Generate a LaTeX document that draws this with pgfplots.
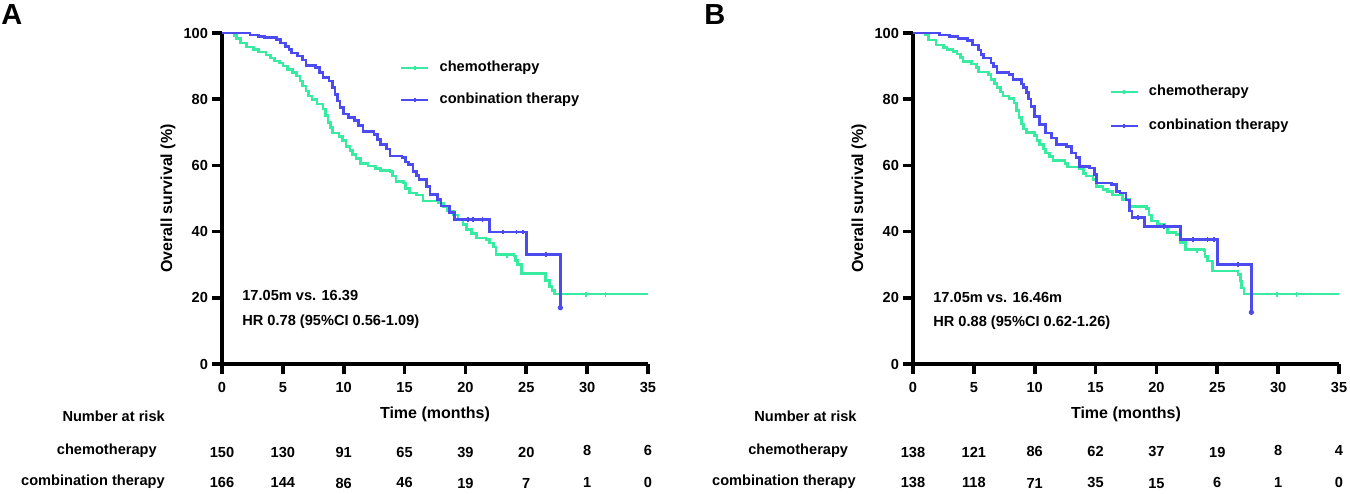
\documentclass[border=0pt]{standalone}
\usepackage{fontspec}
\setmainfont{Liberation Sans}
\usepackage{pgfplots}
\pgfplotsset{compat=1.18}
\definecolor{kmgreen}{RGB}{55,235,160}
\definecolor{kmblue}{RGB}{75,75,240}
\newcommand{\fnt}{\fontsize{7.3}{8.7}\selectfont\bfseries}
\newcommand{\lfnt}{\fontsize{8}{9.6}\selectfont\bfseries}
\pgfplotsset{
 kmaxis/.style={
  scale only axis, width=213pt, height=165.5pt,
  xmin=0,xmax=35,ymin=0,ymax=100,
  axis lines=left,
  axis line style={-, line width=1.8pt},
  every tick/.style={black, line width=1.8pt},
  tick align=outside, major tick length=5pt,
  xtick={0,5,...,35}, ytick={0,20,...,100},
  tick label style={font=\fnt},
  /pgf/number format/assume math mode=true,
  xticklabel style={yshift=-0.5pt},
  yticklabel style={xshift=1.5pt},
  xlabel={Time (months)}, ylabel={Overall survival (\%)},
  every axis x label/.style={at={(axis description cs:0.5,-0.152)}, anchor=center, font=\lfnt},
  every axis y label/.style={at={(axis description cs:-0.127,0.5)}, rotate=90, anchor=center, font=\lfnt},
  clip=false,
  legend cell align=left,
  legend style={draw=none, fill=none, font=\fnt, inner sep=0pt,
    nodes={inner sep=0pt, text height=5.4pt, text depth=1.6pt},
    column sep=5pt},
  legend image code/.code={\draw[#1] (0pt,0pt) -- (13.5pt,0pt);
     \draw[#1] (6.75pt,-1pt) -- (6.75pt,1pt);},
 },
 kmg/.style={kmgreen, line width=1.3pt, const plot, mark=none},
 kmb/.style={kmblue, line width=1.3pt, const plot, mark=none},
 cg/.style={kmgreen, only marks, mark=|, mark size=1.2pt, line width=0.9pt, forget plot},
 cb/.style={kmblue, only marks, mark=|, mark size=1.2pt, line width=0.9pt, forget plot},
}
\begin{document}
\begin{tikzpicture}
\useasboundingbox (0,0) rectangle (675pt,246.5pt);
\node[anchor=north west, inner sep=0pt, font=\fontsize{14.5}{16}\selectfont\bfseries] at (0.5pt,244.5pt) {A};
\node[anchor=north west, inner sep=0pt, font=\fontsize{14.5}{16}\selectfont\bfseries] at (352pt,244.5pt) {B};
% ---------------- Panel A
\begin{axis}[kmaxis, at={(111pt,64.5pt)}, anchor=south west,
  legend style={at={(axis cs:14.6,84.6)}, anchor=west, row sep=9pt}]
\addplot[kmg] coordinates {
(0,100)(1.0,99.3)(1.2,98.4)(1.5,97.0)(2.0,95.8)(2.6,95.0)(3.0,94.3)(3.6,93.4)
(4.0,92.5)(4.3,91.5)(4.7,90.9)(5.0,90.0)(5.4,88.9)(5.8,88.0)(6.1,87.0)(6.4,85.5)
(6.6,84.0)(6.9,82.5)(7.1,81.0)(7.4,79.9)(7.8,78.5)(8.3,77.0)(8.5,75.0)(8.7,73.0)
(8.9,71.5)(9.1,69.8)(9.6,68.8)(9.9,67.5)(10.2,65.8)(10.5,64.5)(10.7,63.3)(11.0,62.0)
(11.4,60.6)(12.0,59.8)(12.6,59.0)(13.0,58.5)(13.8,58.2)(14.0,56.8)(14.3,55.2)(14.9,54.7)
(15.1,53.0)(15.4,51.7)(16.0,51.0)(16.5,49.3)(17.8,48.7)(18.2,47.5)(18.5,46.2)(19.0,45.0)
(19.4,43.7)(19.8,42.2)(20.1,40.7)(20.5,39.5)(20.9,38.1)(21.7,37.6)(22.0,36.5)(22.3,35.3)
(22.5,33.1)(24.0,32.6)(24.1,31.2)(24.3,30.1)(24.6,27.3)(26.6,25.3)(26.9,23.5)(27.1,22.2)
(27.3,21.1)(35,21.1)};
\addlegendentry{chemotherapy}
\addplot[kmb] coordinates {
(0,100)(2.3,99.4)(3.0,99.0)(3.5,98.7)(4.5,98.0)(4.8,97.0)(5.2,96.0)(5.5,95.0)
(5.7,94.0)(6.2,93.0)(6.6,91.8)(6.9,90.2)(7.7,89.5)(8.0,88.0)(8.3,86.5)(8.8,85.5)
(9.1,83.5)(9.3,81.5)(9.5,79.5)(9.7,77.5)(10.0,75.5)(10.4,74.5)(10.9,73.5)(11.2,72.0)
(11.6,70.2)(12.5,69.4)(12.8,67.8)(13.0,66.4)(13.5,64.9)(13.8,62.9)(14.8,62.3)(15.1,61.0)
(15.3,60.2)(15.7,58.2)(16.0,57.0)(16.2,55.7)(16.8,53.7)(17.1,51.2)(17.7,49.7)(18.0,47.7)
(18.7,45.7)(19.1,43.7)(22.0,39.9)(25.0,33.1)(27.8,17.0)};
\addlegendentry{conbination therapy}
\addplot[cg] coordinates {(23.4,32.6)(29.9,21.1)(31.5,21.1)};
\addplot[cb] coordinates {(20.2,43.7)(20.6,43.7)(21.4,43.7)(23.1,39.9)(24.2,39.9)(24.7,39.9)(26.6,33.1)};
\addplot[kmblue, only marks, mark=*, mark size=1.1pt, forget plot] coordinates {(27.8,17.0)};
\node[anchor=west, inner sep=0pt, font=\fnt] at (axis cs:1.64,20.8) {17.05m vs. 16.39};
\node[anchor=west, inner sep=0pt, font=\fnt] at (axis cs:1.64,12.7) {HR 0.78 (95\%CI 0.56-1.09)};
\node[anchor=east, inner sep=0pt, font=\fnt] at (axis cs:-4.67,-15.7) {Number at risk};
\node[anchor=east, inner sep=0pt, font=\fnt] at (axis cs:-5.33,-26.3) {chemotherapy};
\node[anchor=east, inner sep=0pt, font=\fnt] at (axis cs:-4.67,-35.6) {combination therapy};
\node[font=\fnt] at (axis cs:0,-26.6) {150};
\node[font=\fnt] at (axis cs:5,-26.6) {130};
\node[font=\fnt] at (axis cs:10,-26.6) {91};
\node[font=\fnt] at (axis cs:15,-26.6) {65};
\node[font=\fnt] at (axis cs:20,-26.6) {39};
\node[font=\fnt] at (axis cs:25,-26.6) {20};
\node[font=\fnt] at (axis cs:30,-26.0) {8};
\node[font=\fnt] at (axis cs:35,-26.0) {6};
\node[font=\fnt] at (axis cs:0,-35.9) {166};
\node[font=\fnt] at (axis cs:5,-35.9) {144};
\node[font=\fnt] at (axis cs:10,-36.2) {86};
\node[font=\fnt] at (axis cs:15,-35.9) {46};
\node[font=\fnt] at (axis cs:20,-36.2) {19};
\node[font=\fnt] at (axis cs:25,-36.2) {7};
\node[font=\fnt] at (axis cs:30,-35.9) {1};
\node[font=\fnt] at (axis cs:35,-35.9) {0};
\end{axis}
% ---------------- Panel B
\begin{axis}[kmaxis, at={(456.5pt,64.5pt)}, anchor=south west,
  legend style={at={(axis cs:16.1,77.0)}, anchor=west, row sep=10pt}]
\addplot[kmg] coordinates {
(0,100)(1.0,99.4)(1.25,97.9)(1.9,96.4)(2.5,95.6)(2.8,95.0)(3.3,94.5)(3.6,93.6)
(3.9,92.6)(4.1,91.3)(4.8,90.6)(5.2,89.5)(5.4,88.2)(6.2,87.5)(6.4,85.9)(6.7,84.7)
(6.9,83.5)(7.2,82.2)(7.4,81.0)(7.9,80.2)(8.3,78.8)(8.5,76.5)(8.7,74.5)(8.9,72.5)
(9.1,71.0)(9.3,70.0)(10.0,69.0)(10.2,67.5)(10.4,66.3)(10.7,65.0)(10.9,63.8)(11.2,62.7)
(11.5,61.4)(12.5,60.5)(12.7,59.5)(13.7,59.0)(14.0,57.5)(14.2,56.8)(14.8,55.8)(15.1,53.7)
(15.6,52.8)(16.0,52.2)(16.4,51.0)(17.2,49.7)(17.8,47.5)(19.2,47.0)(19.4,45.0)(19.6,43.2)
(20.1,42.3)(20.7,41.5)(20.9,39.7)(21.6,39.2)(22.0,36.7)(22.4,34.6)(23.9,34.2)(24.0,32.5)
(24.2,31.1)(24.6,28.1)(26.7,27.0)(26.9,25.1)(27.0,23.0)(27.2,21.1)(35,21.1)};
\addlegendentry{chemotherapy}
\addplot[kmb] coordinates {
(0,100)(2.2,99.4)(3.0,99.0)(3.7,98.4)(4.5,97.8)(4.9,96.4)(5.4,94.9)(5.6,93.5)
(5.8,92.4)(6.4,90.9)(6.6,89.8)(6.9,88.0)(7.9,87.4)(8.2,85.9)(8.9,84.6)(9.1,83.5)
(9.3,82.0)(9.5,80.0)(9.7,77.8)(10.0,74.8)(10.4,72.3)(10.9,69.8)(11.4,68.3)(11.8,66.3)
(12.6,65.8)(13.0,63.8)(13.4,62.3)(13.7,59.7)(14.5,59.2)(14.9,57.2)(15.1,54.7)(16.3,54.2)
(16.7,52.2)(17.0,51.7)(17.5,49.5)(17.8,46.2)(18.0,44.2)(19.0,41.5)(22.0,37.6)(25.0,30.1)
(27.8,15.6)};
\addlegendentry{conbination therapy}
\addplot[cg] coordinates {(23.3,34.2)(29.9,21.1)(31.5,21.1)};
\addplot[cb] coordinates {(18.5,44.2)(20.6,41.5)(23.0,37.6)(24.2,37.6)(24.75,37.6)(26.7,30.1)};
\addplot[kmblue, only marks, mark=*, mark size=1.1pt, forget plot] coordinates {(27.8,15.6)};
\node[anchor=west, inner sep=0pt, font=\fnt] at (axis cs:1.64,20.2) {17.05m vs. 16.46m};
\node[anchor=west, inner sep=0pt, font=\fnt] at (axis cs:1.64,12.4) {HR 0.88 (95\%CI 0.62-1.26)};
\node[anchor=east, inner sep=0pt, font=\fnt] at (axis cs:-4.6,-15.7) {Number at risk};
\node[anchor=east, inner sep=0pt, font=\fnt] at (axis cs:-5.3,-26.3) {chemotherapy};
\node[anchor=east, inner sep=0pt, font=\fnt] at (axis cs:-4.67,-35.6) {combination therapy};
\node[font=\fnt] at (axis cs:0,-26.6) {138};
\node[font=\fnt] at (axis cs:5,-26.6) {121};
\node[font=\fnt] at (axis cs:10,-26.3) {86};
\node[font=\fnt] at (axis cs:15,-26.3) {62};
\node[font=\fnt] at (axis cs:20,-26.3) {37};
\node[font=\fnt] at (axis cs:25,-26.6) {19};
\node[font=\fnt] at (axis cs:30,-26.0) {8};
\node[font=\fnt] at (axis cs:35,-26.0) {4};
\node[font=\fnt] at (axis cs:0,-35.9) {138};
\node[font=\fnt] at (axis cs:5,-35.9) {118};
\node[font=\fnt] at (axis cs:10,-36.2) {71};
\node[font=\fnt] at (axis cs:15,-35.9) {35};
\node[font=\fnt] at (axis cs:20,-36.2) {15};
\node[font=\fnt] at (axis cs:25,-35.9) {6};
\node[font=\fnt] at (axis cs:30,-35.9) {1};
\node[font=\fnt] at (axis cs:35,-35.9) {0};
\end{axis}
\end{tikzpicture}
\end{document}
